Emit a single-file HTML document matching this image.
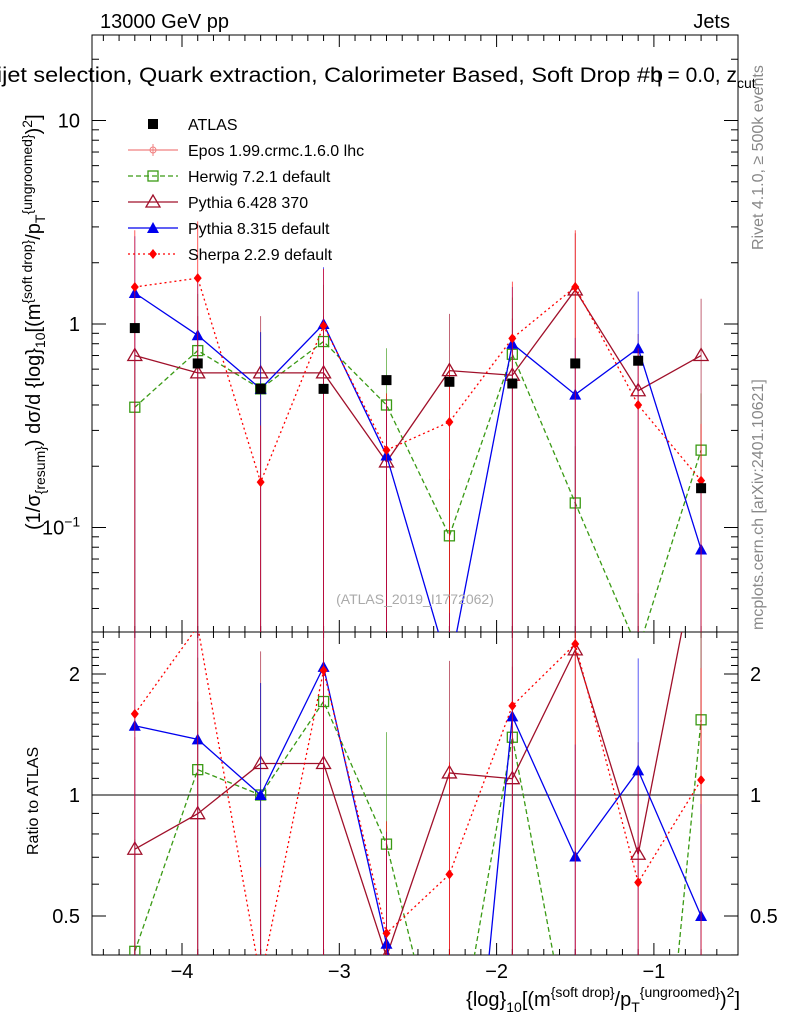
<!DOCTYPE html>
<html><head><meta charset="utf-8"><style>
html,body{margin:0;background:#fff;overflow:hidden;width:786px;height:1024px;}
svg{font-family:"Liberation Sans",sans-serif;display:block;}
</style></head><body>
<svg id="c" width="786" height="1024" xmlns="http://www.w3.org/2000/svg"></svg>
<script>
const xs=[-4.3,-3.9,-3.5,-3.1,-2.7,-2.3,-1.9,-1.5,-1.1,-0.7];
const atlas=[0.955,0.64,0.48,0.48,0.53,0.52,0.51,0.64,0.66,0.156];
const herwig=[0.39,0.74,0.48,0.82,0.40,0.091,0.71,0.132,0.025,0.24];
const pythia6=[0.70,0.575,0.575,0.575,0.21,0.59,0.56,1.47,0.47,0.70];
const pythia8=[1.42,0.88,0.48,1.0,0.226,0.02,0.80,0.45,0.76,0.078];
const sherpa=[1.52,1.68,0.167,0.98,0.24,0.33,0.85,1.52,0.40,0.17];
const xTicks=[-4,-3,-2,-1];
const xTickLabels=["\u22124","\u22123","\u22122","\u22121"];
const ratioTicks=[0.5,1,2];

const L=92,R=738,T=35,M=632,B=955;
const X=v=>182+(v+4)*157.3;
const Y=v=>324-Math.log10(v)*203.5;
const YR=v=>795-Math.log2(v)*121;
const svg=document.getElementById('c');
const NS='http://www.w3.org/2000/svg';
function el(t,a,p){const e=document.createElementNS(NS,t);for(const k in a)e.setAttribute(k,a[k]);(p||svg).appendChild(e);return e;}
function clampY(y,top,bot){return Math.max(top,Math.min(bot,y));}

const f1=el('rect',{x:L,y:T,width:R-L,height:M-T,fill:'none',stroke:'#000'});


const f2=el('rect',{x:L,y:M,width:R-L,height:B-M,fill:'none',stroke:'#000'});


const one=el('line',{x1:L,x2:R,y1:YR(1),y2:YR(1),stroke:'#000'});



for(let v=-4.5;v<=-0.5;v+=0.1){const vv=Math.round(v*10)/10;const x=X(vv);if(x<L||x>R)continue;
 const major=Math.abs(vv-Math.round(vv))<1e-6;const len=major?12:6;
 for(const [a,b] of [[M,M-len],[T,T+len],[B,B-len],[M,M+len]]) el('line',{x1:x,x2:x,y1:a,y2:b,stroke:'#000'});}
xTicks.forEach((v,i)=>{const t=el('text',{x:X(v),y:978,'font-size':20,'text-anchor':'middle'});t.textContent=xTickLabels[i];
 
 });
for(let d=-2;d<=1;d++)for(let m=1;m<10;m++){const v=m*Math.pow(10,d);const y=Y(v);if(y<T||y>M)continue;const len=m==1?14:7;
 el('line',{x1:L,x2:L+len,y1:y,y2:y,stroke:'#000'});el('line',{x1:R,x2:R-len,y1:y,y2:y,stroke:'#000'});}
[[10,'10'],[1,'1']].forEach(([v,s])=>{const t=el('text',{x:80,y:Y(v)+7,'font-size':20,'text-anchor':'end'});t.textContent=s;
 
 });
{const t=el('text',{x:42,y:Y(0.1)+7,'font-size':20});t.innerHTML='10<tspan dy="-8" font-size="14">\u22121</tspan>';
 
 }
for(let v=0.4;v<=2.5;v+=0.1){const vv=Math.round(v*10)/10;const y=YR(vv);if(y<M||y>B)continue;const major=ratioTicks.includes(vv);const len=major?14:7;
 el('line',{x1:L,x2:L+len,y1:y,y2:y,stroke:'#000'});el('line',{x1:R,x2:R-len,y1:y,y2:y,stroke:'#000'});}
ratioTicks.forEach(v=>{const t=el('text',{x:80,y:YR(v)+7,'font-size':20,'text-anchor':'end'});t.textContent=v;
 
 
 const t2=el('text',{x:750,y:YR(v)+7,'font-size':20});t2.textContent=v;
 
 });

function marker(kind,x,y,col,g){
 if(kind=='sq')el('rect',{x:x-5,y:y-5,width:10,height:10,fill:col},g);
 else if(kind=='osq')el('rect',{x:x-5,y:y-5,width:10,height:10,fill:'none',stroke:col,'stroke-width':1.3},g);
 else if(kind=='otri')el('polygon',{points:`${x},${y-7} ${x-7},${y+5} ${x+7},${y+5}`,fill:'none',stroke:col,'stroke-width':1.3},g);
 else if(kind=='tri')el('polygon',{points:`${x},${y-6} ${x-6},${y+5} ${x+6},${y+5}`,fill:col},g);
 else if(kind=='dia')el('polygon',{points:`${x},${y-5} ${x-4},${y} ${x},${y+5} ${x+4},${y}`,fill:col},g);
}
const series=[
 {name:'herwig',vals:herwig,col:'#3a9a14',dash:'5,3',m:'osq'},
 {name:'pythia6',vals:pythia6,col:'#a0102a',dash:'',m:'otri'},
 {name:'pythia8',vals:pythia8,col:'#0000ee',dash:'',m:'tri'},
 {name:'sherpa',vals:sherpa,col:'#ff0000',dash:'2,3',m:'dia'}];
const clipM=el('clipPath',{id:'cm'});el('rect',{x:L,y:T,width:R-L,height:M-T},clipM);
const clipR=el('clipPath',{id:'cr'});el('rect',{x:L,y:M,width:R-L,height:B-M},clipR);
series.forEach(s=>{
 const g=el('g',{'clip-path':'url(#cm)'});
 
 
 const gr=el('g',{'clip-path':'url(#cr)'});
 
 
 const pts=xs.map((x,i)=>X(x)+','+Y(s.vals[i])).join(' ');
 el('polyline',{points:pts,fill:'none',stroke:s.col,'stroke-width':1.3,'stroke-dasharray':s.dash},g);
 const rp=xs.map((x,i)=>X(x)+','+YR(s.vals[i]/atlas[i])).join(' ');
 el('polyline',{points:rp,fill:'none',stroke:s.col,'stroke-width':1.3,'stroke-dasharray':s.dash},gr);
 xs.forEach((x,i)=>{const v=s.vals[i];
  el('line',{x1:X(x),x2:X(x),y1:clampY(Y(v*1.9),T,M),y2:M,stroke:s.col,'stroke-width':0.8,opacity:0.8},g);
  el('line',{x1:X(x),x2:X(x),y1:clampY(YR(v*1.9/atlas[i]),M,B),y2:B,stroke:s.col,'stroke-width':0.8,opacity:0.8},gr);
  marker(s.m,X(x),Y(v),s.col,g);marker(s.m,X(x),YR(v/atlas[i]),s.col,gr);});
});
const ga=el('g',{});


xs.forEach((x,i)=>marker('sq',X(x),Y(atlas[i]),'#000',ga));

const leg=[['ATLAS','#000','','sq'],['Epos 1.99.crmc.1.6.0 lhc','#f08080','','cross'],['Herwig 7.2.1 default','#3a9a14','5,3','osq'],
['Pythia 6.428 370','#a0102a','','otri'],['Pythia 8.315 default','#0000ee','','tri'],['Sherpa 2.2.9 default','#ff0000','2,3','dia']];
leg.forEach((l,i)=>{const y=124+i*26;const g=el('g',{});
 
 
 if(i>0)el('line',{x1:128,x2:178,y1:y,y2:y,stroke:l[1],'stroke-width':1.3,'stroke-dasharray':l[2]},g);
 if(l[3]=='cross'){el('line',{x1:153,x2:153,y1:y-6,y2:y+6,stroke:l[1]},g);el('circle',{cx:153,cy:y,r:3,fill:'none',stroke:l[1]},g);}
 else marker(l[3],153,y,l[1],g);
 const t=el('text',{x:188,y:y+6,'font-size':16},g);t.textContent=l[0];});

function txt(s,a,name){const t=el('text',a);t.innerHTML=s;return t;}
txt('13000 GeV pp',{x:100,y:28,'font-size':20},'energy-label');
txt('Jets',{x:730,y:28,'font-size':20,'text-anchor':'end'},'process-label');
txt('Dijet selection, Quark extraction, Calorimeter Based, Soft Drop #b',{x:-20,y:82,'font-size':21,textLength:683,lengthAdjust:'spacingAndGlyphs'},'plot-title');
txt('η = 0.0, z<tspan dy="6" font-size="14">cut</tspan>',{x:650,y:82,'font-size':21},'plot-title-end');
txt('(ATLAS_2019_I1772062)',{x:415,y:604,'font-size':14,fill:'#aaa','text-anchor':'middle'},'analysis-watermark');
txt('Rivet 4.1.0, \u2265 500k events',{x:0,y:0,'font-size':16,fill:'#888',transform:'translate(763,250) rotate(-90)'},'rivet-label');
txt('mcplots.cern.ch [arXiv:2401.10621]',{x:0,y:0,'font-size':16,fill:'#888',transform:'translate(763,630) rotate(-90)'},'mcplots-label');
txt('(1/σ<tspan dy="5" font-size="14">{resum}</tspan><tspan dy="-5">) dσ/d {log}</tspan><tspan dy="5" font-size="14">10</tspan><tspan dy="-5">[(m</tspan><tspan dy="-8" font-size="14">{soft drop}</tspan><tspan dy="8">/p</tspan><tspan dy="5" font-size="14">T</tspan><tspan dy="-13" font-size="14">{ungroomed}</tspan><tspan dy="8">)</tspan><tspan dy="-8" font-size="14">2</tspan><tspan dy="8">]</tspan>',{x:0,y:0,'font-size':20,transform:'translate(40,530) rotate(-90)'},'y-axis-title');
txt('Ratio to ATLAS',{x:0,y:0,'font-size':16,transform:'translate(38,855) rotate(-90)'},'ratio-axis-title');
txt('{log}<tspan dy="6" font-size="14">10</tspan><tspan dy="-6">[(m</tspan><tspan dy="-9" font-size="14">{soft drop}</tspan><tspan dy="9">/p</tspan><tspan dy="6" font-size="14">T</tspan><tspan dy="-15" font-size="14">{ungroomed}</tspan><tspan dy="9">)</tspan><tspan dy="-9" font-size="14">2</tspan><tspan dy="9">]</tspan>',{x:740,y:1006,'font-size':20,'text-anchor':'end'},'x-axis-title');
</script>
</body></html>
